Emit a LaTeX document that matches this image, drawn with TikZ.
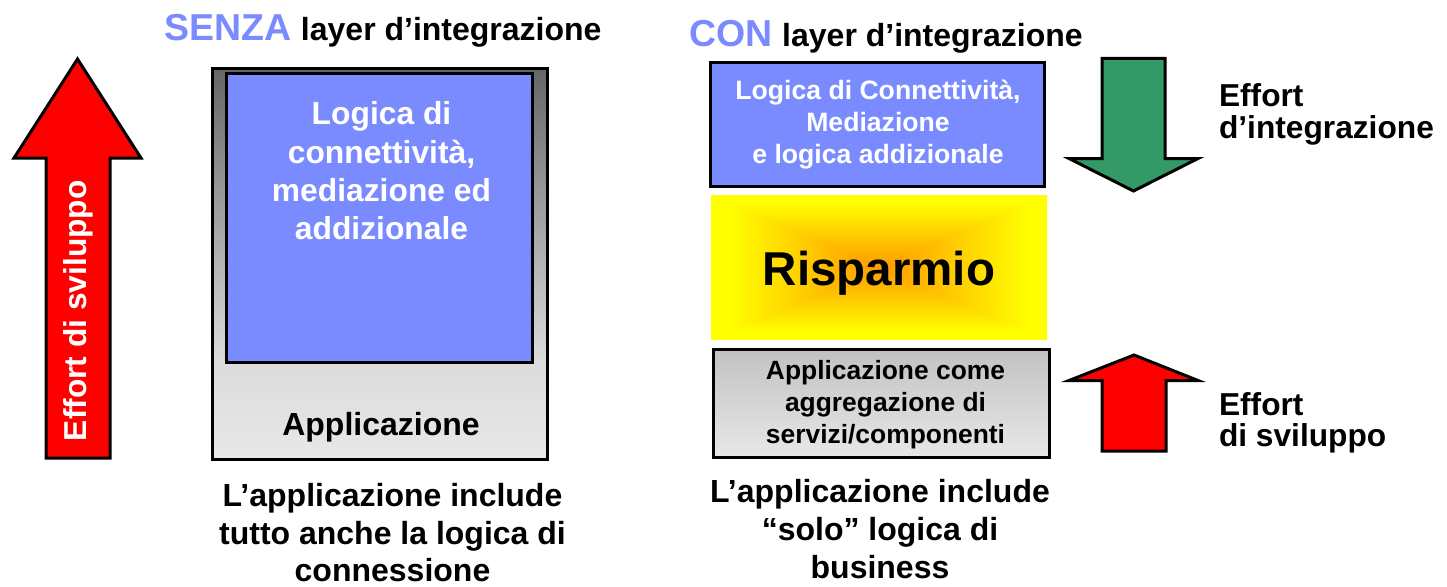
\documentclass[tikz,border=0pt]{standalone}
\usepackage{fontspec}
\setmainfont{Liberation Sans}[BoldFont={Liberation Sans Bold}]
\usetikzlibrary{calc}
\definecolor{iblue}{HTML}{7A8BFF}
\definecolor{igreen}{HTML}{339966}
\pgfdeclareverticalshading{appbig}{100bp}{color(0bp)=(black!9);
  color(25bp)=(black!9);color(37.5bp)=(black!14);color(75bp)=(black!60);color(100bp)=(black!60)}
\pgfdeclareverticalshading{appsmall}{100bp}{color(0bp)=(black!9);
  color(25bp)=(black!9);color(75bp)=(black!24);color(100bp)=(black!24)}
\pgfdeclarefunctionalshading{rispgrad}{\pgfpointorigin}{\pgfpoint{100bp}{100bp}}{}{
  50 sub abs 25 div exch 50 sub abs 25 div 2 copy lt {exch} if pop
  0.45 mul 0.6 add dup 1 gt {pop 1} if 1 exch 0
}
\newcommand{\fs}[2]{\fontsize{#1}{#2}\selectfont\bfseries}
\tikzset{
  x=1pt,y=-1pt,
  box/.style={draw=black,line width=3pt,line join=miter,outer sep=0pt},
  arrowshape/.style={draw=black,line width=3pt,line join=miter},
  txt/.style={inner sep=0pt,outer sep=0pt,align=center,text=black},
  lefttxt/.style={inner sep=0pt,outer sep=0pt,align=left,text=black},
}
\begin{document}
\begin{tikzpicture}
\useasboundingbox (0,0) rectangle (1447,586);
% titles
\node[lefttxt,anchor=base west,font=\fs{32}{34}] (t1) at (164,41) {{\fs{37.5}{36}\textcolor{iblue}{SENZA}}\hspace{1pt} layer d’integrazione};
\node[lefttxt,anchor=base west,font=\fs{32}{34}] (t2) at (689,47) {{\fs{37.5}{36}\textcolor{iblue}{CON}}\hspace{1pt} layer d’integrazione};
% left arrow
\draw[arrowshape,fill=red] (77.5,59) -- (141,158) -- (110,158) -- (110,458) -- (46,458) -- (46,158) -- (14,158) -- cycle;
\node[txt,text=white,anchor=base west,rotate=90,font=\fs{31.7}{34}] (a1) at (86,441) {Effort di sviluppo};
% left boxes
\path[box,shading=appbig] (212.5,68.5) rectangle (547.5,459.5);
\draw[box] (212.5,68.5) rectangle (547.5,459.5);
\node[box,fill=iblue,minimum width=306pt,minimum height=289pt,anchor=north west,inner sep=0pt] (b1) at (226.5,73.5) {};
\node[txt,text=white,font=\fs{31.8}{38.3}] (b1t) at (381.5,171) {Logica di\\connettività,\\mediazione ed\\addizionale};
\node[txt,anchor=base,font=\fs{32}{34}] (b2t) at (381,435) {Applicazione};
\node[txt,font=\fs{32}{37.5}] (c1) at (392.5,533) {L’applicazione include\\tutto anche la logica di\\connessione};
% right boxes
\node[box,fill=iblue,minimum width=334pt,minimum height=124pt,anchor=north west,inner sep=0pt] (r1) at (710.5,62.5) {};
\node[txt,text=white,font=\fs{26.6}{32}] (r1t) at (878,125) {Logica di Connettività,\\Mediazione\\e logica addizionale};
\path[shading=rispgrad] (711,195) rectangle (1047,339.5);
\node[txt,anchor=base,font=\fs{47.5}{50}] (r2t) at (879,285) {Risparmio};
\path[box,shading=appsmall] (713.5,349.5) rectangle (1049.5,457.5);
\draw[box] (713.5,349.5) rectangle (1049.5,457.5);
\node[txt,font=\fs{26.4}{32}] (r3t) at (885.5,405) {Applicazione come\\aggregazione di\\servizi/componenti};
\node[txt,font=\fs{32}{38}] (c2) at (880,529) {L’applicazione include\\“solo” logica di\\business};
% right arrows
\draw[arrowshape,fill=igreen] (1102,58.5) -- (1165,58.5) -- (1165,158.5) -- (1198,158.5) -- (1133.5,191) -- (1069,158.5) -- (1102,158.5) -- cycle;
\draw[arrowshape,fill=red] (1102,451) -- (1166,451) -- (1166,380.5) -- (1198,380.5) -- (1134,355) -- (1069,380.5) -- (1102,380.5) -- cycle;
\node[lefttxt,anchor=north west,font=\fs{31.7}{32}] (e1) at (1219,84) {Effort\\d’integrazione};
\node[lefttxt,anchor=north west,font=\fs{31.7}{31}] (e2) at (1219,393) {Effort\\di sviluppo};
\end{tikzpicture}
\end{document}
